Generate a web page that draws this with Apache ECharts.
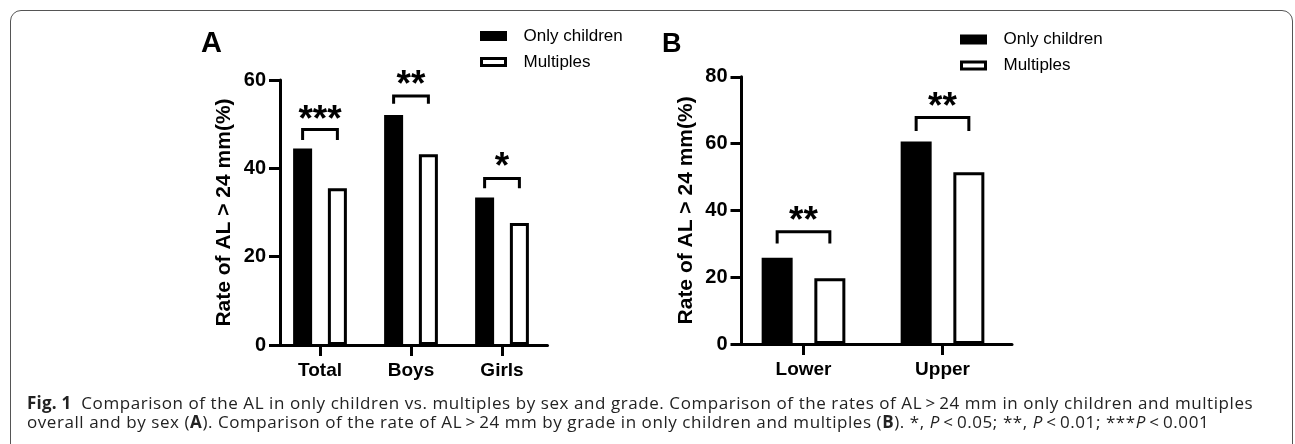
<!DOCTYPE html>
<html>
<head>
<meta charset="utf-8">
<script src="https://cdn.jsdelivr.net/npm/echarts@6/dist/echarts.min.js"></script>
<style>
  html, body { margin: 0; padding: 0; background: #fff; }
  #wrap { position: relative; width: 1295px; height: 444px; overflow: hidden; }
  #chart { position: absolute; left: 0; top: 0; width: 1295px; height: 444px; }
  #frame { position: absolute; left: 10px; top: 10px; width: 1283px; height: 500px;
           border: 1px solid #555; border-radius: 11px; pointer-events: none; box-sizing: border-box; }
  #caption { position: absolute; left: 27px; top: 393px; font-family: "Open Sans", "Noto Sans", sans-serif;
             font-size: 17px; letter-spacing: 0.57px; line-height: 19px; color: #222; white-space: nowrap; }
  #caption b.fig { margin-right: 10px; letter-spacing: 0.2px; }
</style>
</head>
<body>
<div id="wrap">
  <div id="chart"></div>
  <div id="frame"></div>
  <div id="caption">
    <div><b class="fig">Fig. 1</b>Comparison of the AL in only children vs. multiples by sex and grade. Comparison of the rates of AL&thinsp;&gt;&thinsp;24 mm in only children and multiples</div>
    <div>overall and by sex (<b>A</b>). Comparison of the rate of AL&thinsp;&gt;&thinsp;24 mm by grade in only children and multiples (<b>B</b>). *, <i>P</i>&thinsp;&lt;&thinsp;0.05; **, <i>P</i>&thinsp;&lt;&thinsp;0.01; ***<i>P</i>&thinsp;&lt;&thinsp;0.001</div>
  </div>
</div>
<script>
// ---- Data ----
const seriesNames = ['Only children', 'Multiples'];
const yAxisTitle = 'Rate of AL > 24 mm(%)';

// Panel A
const catsA = ['Total', 'Boys', 'Girls'];
const onlyA = [44.5, 52.1, 33.4];
const multA = [35.5, 43.2, 27.6];
const starsA = ['***', '**', '*'];
const bracketTopA = [48.8, 56.4, 37.7];
const bracketEndA = [46.4, 54.6, 35.5];
const starPosA = [52.6, 60.6, 41.9];
const yTicksA = { min: 0, max: 60, interval: 20 };

// Panel B
const catsB = ['Lower', 'Upper'];
const onlyB = [25.8, 60.6];
const multB = [19.7, 51.4];
const starsB = ['**', '**'];
const bracketTopB = [33.6, 67.8];
const bracketEndB = [30.1, 63.8];
const starPosB = [38.9, 73.0];
const yTicksB = { min: 0, max: 80, interval: 20 };

// ---- Styles ----
const FONT = '"Liberation Sans", Arial, Helvetica, sans-serif';
const barA = { width: 19, gap: 0.83 };
const barB = { width: 31, gap: 0.70 };

function makeBracketRender(bar, labels) {
  const off = (bar.width + bar.width * bar.gap) / 2;
  return function (params, api) {
    const c = api.value(0);
    const top = api.coord([c, api.value(1)]);
    const end = api.coord([c, api.value(2)]);
    const star = api.coord([c, api.value(3)]);
    const x0 = top[0] - off, x1 = top[0] + off;
    return {
      type: 'group',
      children: [
        { type: 'polyline', shape: { points: [[x0, end[1]], [x0, top[1]], [x1, top[1]], [x1, end[1]]] },
          style: { stroke: '#000', lineWidth: 3, fill: null, lineJoin: 'miter' } },
        { type: 'text', x: top[0], y: star[1] + 8,
          style: { text: labels[params.dataIndex], font: 'bold 37px ' + FONT, fill: '#000',
                   align: 'center', verticalAlign: 'middle' } }
      ]
    };
  };
}

function xAxisCfg(gridIndex, cats) {
  return {
    type: 'category', gridIndex, data: cats,
    axisLine: { show: true, lineStyle: { color: '#000', width: 3 } },
    axisTick: { show: true, alignWithLabel: true, length: 11, lineStyle: { color: '#000', width: 3 } },
    axisLabel: { color: '#000', fontFamily: FONT, fontWeight: 'bold', fontSize: 19, margin: 16 },
    splitLine: { show: false }
  };
}
function yAxisCfg(gridIndex, t, offset) {
  return {
    type: 'value', gridIndex, min: t.min, max: t.max, interval: t.interval, offset,
    name: yAxisTitle, nameLocation: 'middle', nameGap: 45,
    nameTextStyle: { color: '#000', fontFamily: FONT, fontWeight: 'bold', fontSize: 21 },
    axisLine: { show: true, lineStyle: { color: '#000', width: 3 } },
    axisTick: { show: true, length: 11, lineStyle: { color: '#000', width: 3 } },
    axisLabel: { color: '#000', fontFamily: FONT, fontWeight: 'bold', fontSize: 20, margin: 14 },
    splitLine: { show: false }
  };
}
function legendCfg(left, top) {
  return {
    left, top, orient: 'vertical', data: seriesNames, icon: 'rect', padding: 0,
    itemWidth: 24, itemHeight: 7, itemGap: 9,
    itemStyle: { borderWidth: 3 },
    textStyle: { color: '#000', fontFamily: FONT, fontSize: 17, lineHeight: 17, padding: [0, 0, 0, 13] },
    selectedMode: false
  };
}
const blackStyle = { color: '#000', borderColor: '#000', borderWidth: 3 };
const whiteStyle = { color: '#fff', borderColor: '#000', borderWidth: 3 };

const chart = echarts.init(document.getElementById('chart'), null, { renderer: 'canvas' });
chart.setOption({
  animation: false,
  backgroundColor: '#fff',
  grid: [
    { left: 274.5, top: 80, width: 273, height: 265, containLabel: false },
    { left: 734, top: 76.8, width: 278, height: 267.2, containLabel: false }
  ],
  xAxis: [xAxisCfg(0, catsA), xAxisCfg(1, catsB)],
  yAxis: [yAxisCfg(0, yTicksA, -5.5), yAxisCfg(1, yTicksB, -7.5)],
  legend: [legendCfg(480, 27.5), legendCfg(960, 31)],
  graphic: [
    { type: 'text', left: 201, top: 29, style: { text: 'A', font: 'bold 29px ' + FONT, fill: '#000' } },
    { type: 'text', left: 662, top: 31, style: { text: 'B', font: 'bold 27px ' + FONT, fill: '#000' } }
  ],
  series: [
    { name: seriesNames[0], type: 'bar', xAxisIndex: 0, yAxisIndex: 0, data: onlyA,
      barWidth: barA.width, barGap: (barA.gap * 100) + '%', itemStyle: blackStyle },
    { name: seriesNames[1], type: 'bar', xAxisIndex: 0, yAxisIndex: 0, data: multA,
      barWidth: barA.width, barGap: (barA.gap * 100) + '%', itemStyle: whiteStyle },
    { name: seriesNames[0], type: 'bar', xAxisIndex: 1, yAxisIndex: 1, data: onlyB,
      barWidth: barB.width, barGap: (barB.gap * 100) + '%', itemStyle: blackStyle },
    { name: seriesNames[1], type: 'bar', xAxisIndex: 1, yAxisIndex: 1, data: multB,
      barWidth: barB.width, barGap: (barB.gap * 100) + '%', itemStyle: whiteStyle },
    { type: 'custom', xAxisIndex: 0, yAxisIndex: 0, silent: true, z: 5,
      data: bracketTopA.map((t, i) => [i, t, bracketEndA[i], starPosA[i]]),
      renderItem: makeBracketRender(barA, starsA) },
    { type: 'custom', xAxisIndex: 1, yAxisIndex: 1, silent: true, z: 5,
      data: bracketTopB.map((t, i) => [i, t, bracketEndB[i], starPosB[i]]),
      renderItem: makeBracketRender(barB, starsB) }
  ]
});
</script>
</body>
</html>
